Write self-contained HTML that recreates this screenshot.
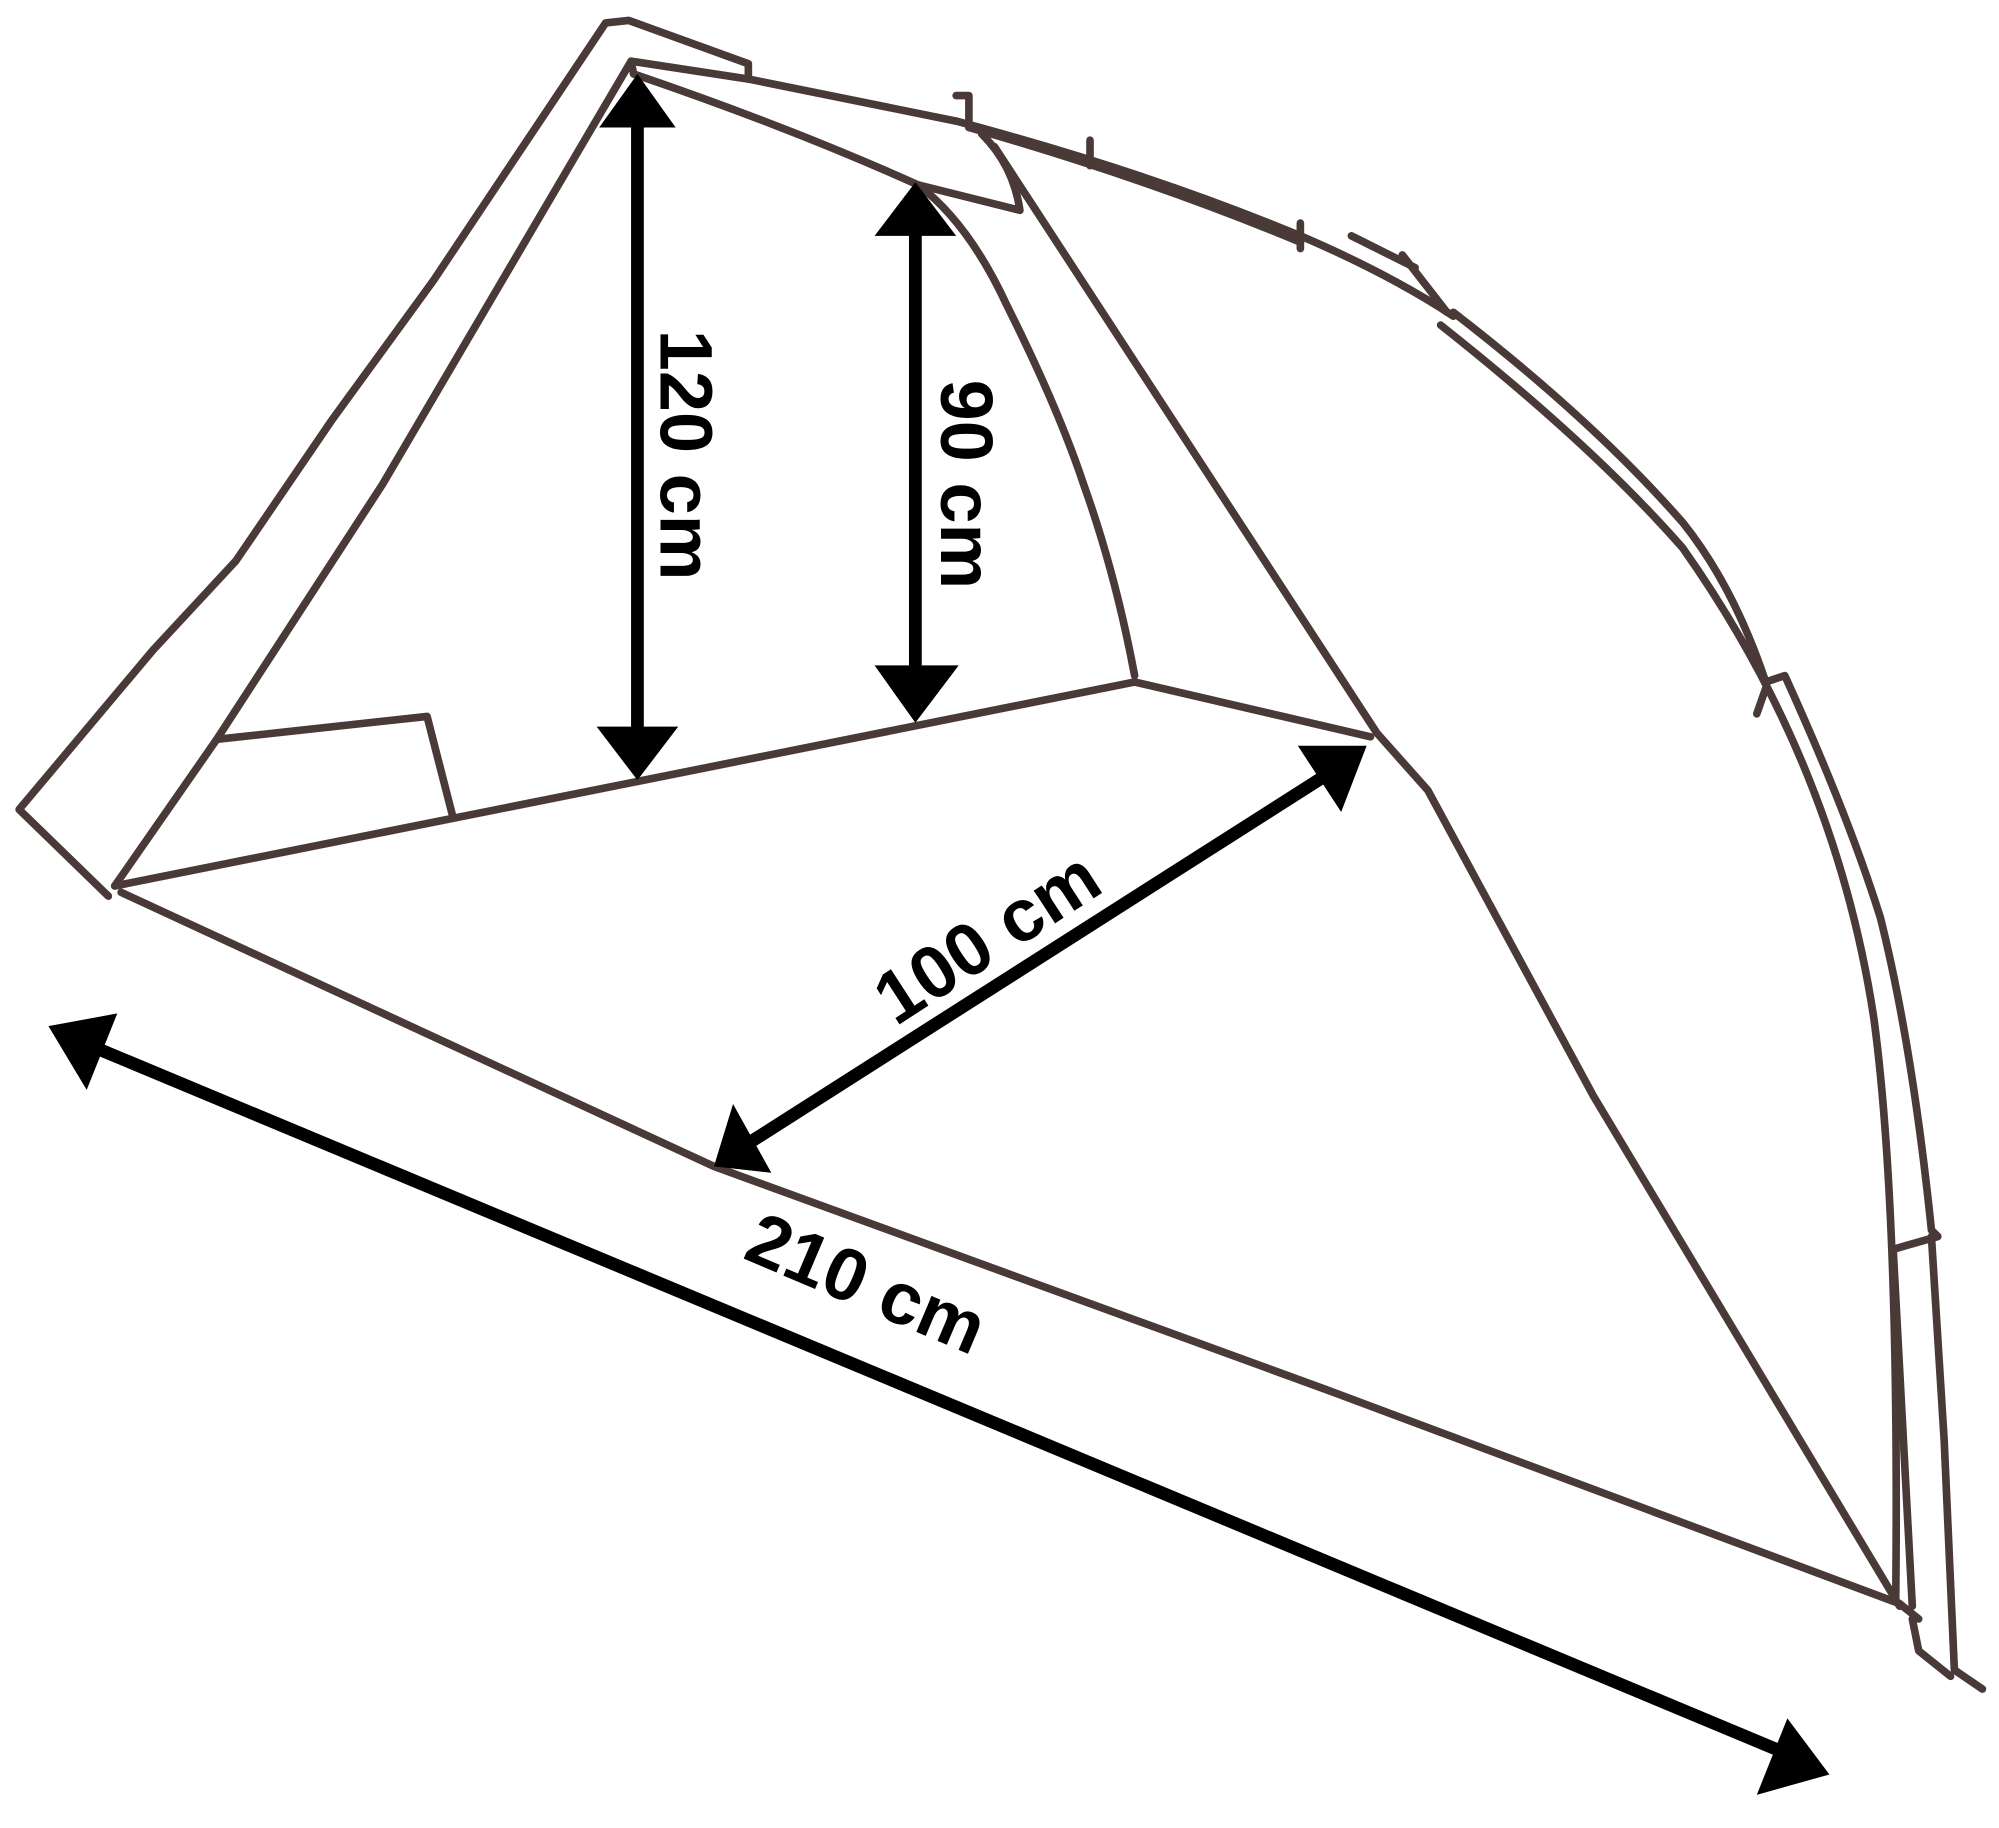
<!DOCTYPE html>
<html><head><meta charset="utf-8"><style>html,body{margin:0;padding:0;background:#fff}svg{display:block}
.t{font-family:"Liberation Sans","DejaVu Sans",sans-serif;font-weight:bold;font-size:58px;fill:#000}</style></head>
<body>
<svg width="1999" height="1828" viewBox="0 0 1568 1434" preserveAspectRatio="none" xmlns="http://www.w3.org/2000/svg">
<g fill="none" stroke="#4a3a37" stroke-width="6" stroke-linejoin="round" stroke-linecap="round">
<path d="M85,703 L15,635 L120,510 L185,440 L260,330 L340,220 L475,18 L493,16 L587,50 L587,62 L750,95"/>
<path d="M90,695 L170,580 L300,380 L495,48 L497,58"/>
<path d="M497,58 Q620,100 720,145 Q760,175 790,240 Q830,320 850,380 Q875,450 890,530"/>
<path d="M720,145 L800,165 Q795,130 770,105"/>
<path d="M90,695 L890,535 L1075,578"/>
<path d="M170,580 L335,562 L355,640"/>
<path d="M95,700 L560,915 L1040,1090 L1490,1258 L1505,1270"/>
<path d="M495,48 L587,62"/>
<path d="M750,95 Q900,135 1020,185 Q1090,215 1140,248"/>
<path d="M760,100 Q900,140 1020,190"/>
<path d="M750,75 L760,75 L760,100 M855,110 L855,130 M1020,175 L1020,195 M1060,185 L1110,210 M1100,200 L1135,245"/>
<path d="M1140,245 Q1250,330 1320,410 Q1360,460 1385,535 L1400,530 Q1450,640 1475,720 Q1500,820 1515,965 L1520,970 L1485,980 L1500,1260"/>
<path d="M1130,255 Q1250,350 1320,430 Q1440,600 1470,800 Q1490,950 1487,1255"/>
<path d="M1385,540 L1378,560"/>
<path d="M1515,970 L1525,1130 L1533,1310 L1555,1325 M1500,1270 L1505,1295 L1530,1315"/>
<path d="M780,115 L1080,575 L1120,620 L1250,860 L1490,1260"/>
</g>
<g stroke="#000" stroke-width="10" fill="#000">
<line x1="500" y1="90" x2="500" y2="580"/>
<polygon points="500,58 470,100 530,100" stroke="none"/>
<polygon points="500,612 468,570 532,570" stroke="none"/>
<line x1="718" y1="175" x2="718" y2="530"/>
<polygon points="718,143 686,185 750,185" stroke="none"/>
<polygon points="718,567 686,522 752,522" stroke="none"/>
<line x1="590" y1="895" x2="1045" y2="605"/>
<polygon points="1072,585 1018,585 1052,637" stroke="none"/>
<polygon points="560,915 575,866 605,920" stroke="none"/>
<line x1="75" y1="822" x2="1400" y2="1375"/>
<polygon points="38,805 92,795 68,855" stroke="none"/>
<polygon points="1435,1392 1378,1408 1402,1348" stroke="none"/>
</g>
<g text-anchor="middle">
<text class="t" transform="translate(518,357) rotate(90)">120 cm</text>
<text class="t" transform="translate(738,380) rotate(90)">90 cm</text>
<text class="t" transform="translate(785,752) rotate(-33)">100 cm</text>
<text class="t" transform="translate(672,1025) rotate(23)">210 cm</text>
</g>
</svg>
</body></html>
